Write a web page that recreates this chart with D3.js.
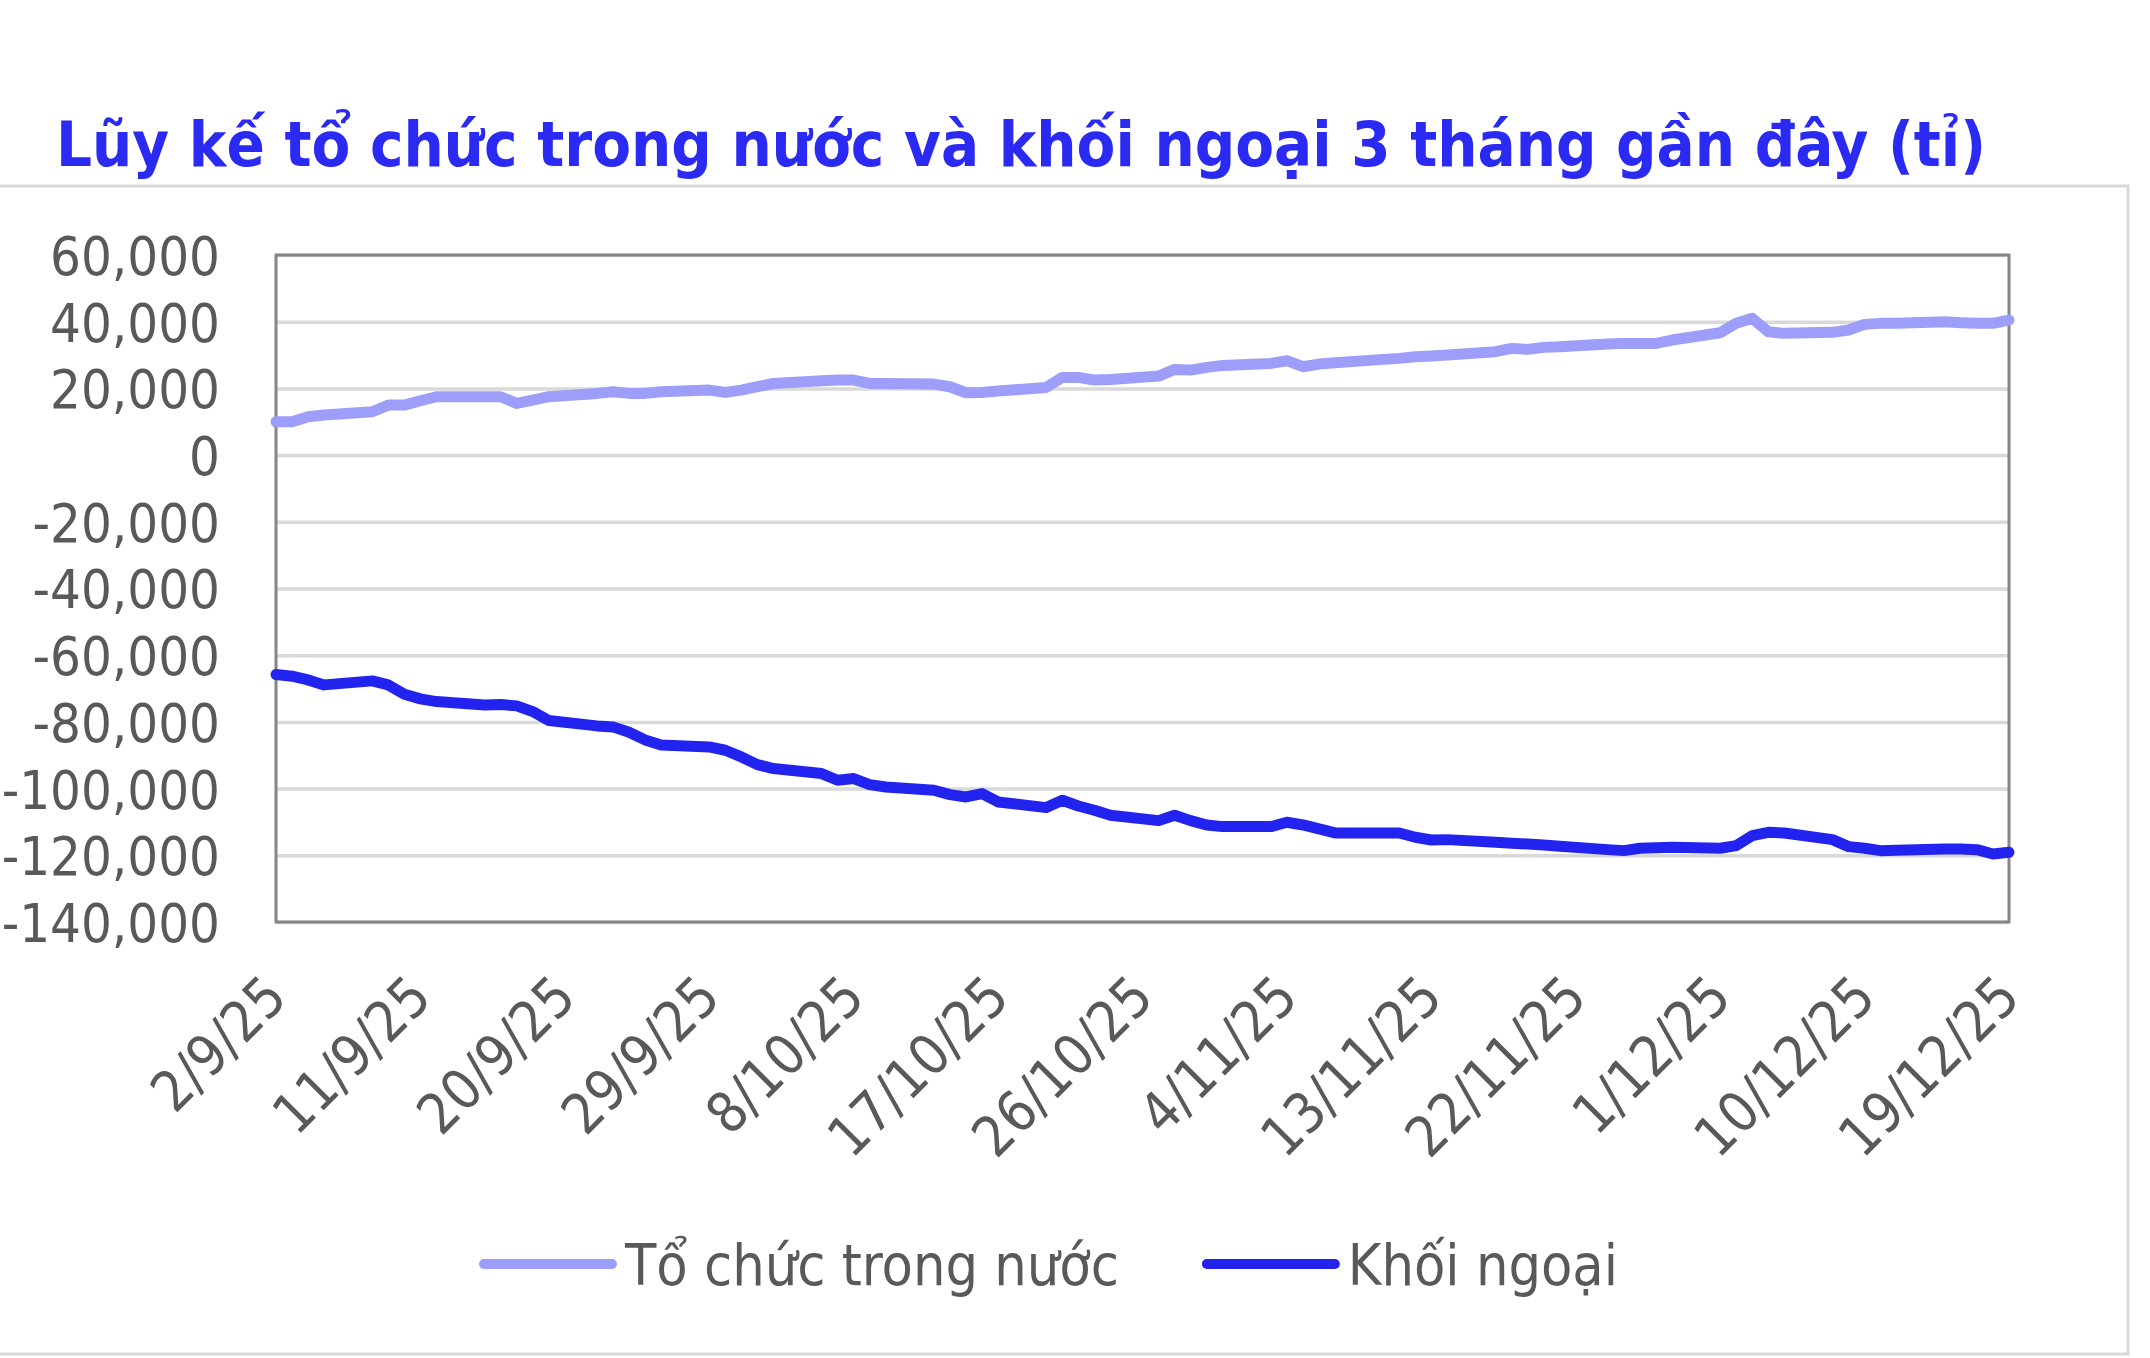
<!DOCTYPE html>
<html>
<head>
<meta charset="utf-8">
<script src="https://cdn.jsdelivr.net/npm/d3@7"></script>
<style>
  body { margin: 0; background: #fff; }
  svg { display: block; }
</style>
</head>
<body>
<div id="chart"></div>
<script>
////////////////////////////////////////////////////////////////////////
// Data (values in tỉ đồng)

let chartTitle = "Lũy kế tổ chức trong nước và khối ngoại 3 tháng gần đây (tỉ)";
let seriesNames = ["Tổ chức trong nước", "Khối ngoại"];

// trading days, d/m/yy
let dates = [
  "2/9/25","3/9/25","4/9/25","5/9/25","8/9/25","9/9/25","10/9/25","11/9/25","12/9/25",
  "15/9/25","16/9/25","17/9/25","18/9/25","19/9/25","22/9/25","23/9/25","24/9/25","25/9/25","26/9/25",
  "29/9/25","30/9/25","1/10/25","2/10/25","3/10/25","6/10/25","7/10/25","8/10/25","9/10/25","10/10/25",
  "13/10/25","14/10/25","15/10/25","16/10/25","17/10/25","20/10/25","21/10/25","22/10/25","23/10/25","24/10/25",
  "27/10/25","28/10/25","29/10/25","30/10/25","31/10/25","3/11/25","4/11/25","5/11/25","6/11/25","7/11/25",
  "10/11/25","11/11/25","12/11/25","13/11/25","14/11/25","17/11/25","18/11/25","19/11/25","20/11/25","21/11/25",
  "24/11/25","25/11/25","26/11/25","27/11/25","28/11/25","1/12/25","2/12/25","3/12/25","4/12/25","5/12/25",
  "8/12/25","9/12/25","10/12/25","11/12/25","12/12/25","15/12/25","16/12/25","17/12/25","18/12/25","19/12/25"
];

let domestic = [
  10000, 10000, 11500, 12000, 13000, 15000, 15000, 16300, 17500,
  17500, 17500, 15500, 16500, 17500, 18500, 19000, 18500, 18500, 19000,
  19500, 18800, 19500, 20500, 21500, 22300, 22500, 22500, 21500, 21500,
  21300, 20500, 18700, 18800, 19200, 20300, 23300, 23300, 22500, 22700,
  23700, 25700, 25500, 26300, 26900, 27500, 28300, 26500, 27300, 27700,
  28700, 29000, 29500, 29700, 30000, 31000, 32000, 31700, 32300, 32500,
  33300, 33500, 33500, 33500, 34500, 36700, 39500, 41000, 37000, 36500,
  36800, 37500, 39200, 39500, 39500, 40000, 39700, 39500, 39500, 40500
];

let foreign = [
  -65800, -66300, -67400, -68900, -67700, -68900, -71700, -73100, -73900,
  -74900, -74800, -75200, -76900, -79600, -81200, -81500, -83100, -85400, -86900,
  -87500, -88500, -90500, -92800, -94000, -95500, -97500, -97000, -98800, -99500,
  -100500, -101800, -102500, -101500, -104000, -105700, -103500, -105200, -106500, -108000,
  -109600, -108000, -109600, -110900, -111400, -111400, -110100, -110900, -112100, -113300,
  -113300, -113300, -114600, -115400, -115300, -116100, -116400, -116600, -116900, -117300,
  -118300, -118600, -117900, -117700, -117600, -117900, -117100, -114100, -113100, -113300,
  -115300, -117400, -117900, -118600, -118500, -118100, -118100, -118300, -119600, -119100
];

let xTickLabels = ["2/9/25","11/9/25","20/9/25","29/9/25","8/10/25","17/10/25","26/10/25",
  "4/11/25","13/11/25","22/11/25","1/12/25","10/12/25","19/12/25"];
let yTicks = [60000, 40000, 20000, 0, -20000, -40000, -60000, -80000, -100000, -120000, -140000];

////////////////////////////////////////////////////////////////////////
// Layout

let W = 2150, H = 1358;
let plotLeft = 276, plotRight = 2009, plotTop = 255, plotBottom = 922;
let font = "'DejaVu Sans Condensed', 'Liberation Sans', sans-serif";
let textGray = "#595959";
let colors = ["#9d9dfa", "#2323f0"];

let parseDate = d3.utcParse("%d/%m/%y");
let fmt = d3.formatLocale({decimal: ".", thousands: ",", grouping: [3], currency: ["", ""], minus: "-"}).format(",");

let svg = d3.select("#chart").append("svg")
  .attr("width", W)
  .attr("height", H)
  .style("font-family", font);

// outer chart frame
svg.append("rect")
  .attr("x", -5).attr("y", 186)
  .attr("width", 2133).attr("height", 1168)
  .attr("fill", "none")
  .attr("stroke", "#d9d9d9")
  .attr("stroke-width", 3);

// title
svg.append("text")
  .attr("x", 56).attr("y", 166)
  .attr("textLength", 1930)
  .attr("lengthAdjust", "spacingAndGlyphs")
  .style("font-size", "63px")
  .style("font-weight", "bold")
  .style("fill", "#2a2af2")
  .text(chartTitle);

let xScale = d3.scaleUtc()
  .domain([parseDate(xTickLabels[0]), parseDate(xTickLabels[xTickLabels.length - 1])])
  .range([plotLeft, plotRight]);
let yScale = d3.scaleLinear().domain([-140000, 60000]).range([plotBottom, plotTop]);

// gridlines
svg.append("g")
  .attr("class", "grid")
  .attr("transform", "translate(" + plotLeft + ",0)")
  .call(d3.axisLeft(yScale).tickValues(yTicks).tickSize(-(plotRight - plotLeft)).tickFormat(""))
  .call(g => g.select(".domain").remove())
  .call(g => g.selectAll("line").attr("stroke", "#d9d9d9").attr("stroke-width", 3.5));

// plot border
svg.append("rect")
  .attr("x", plotLeft).attr("y", plotTop)
  .attr("width", plotRight - plotLeft).attr("height", plotBottom - plotTop)
  .attr("fill", "none")
  .attr("stroke", "#858585")
  .attr("stroke-width", 3);

// y axis labels
svg.append("g")
  .attr("class", "yaxis")
  .attr("transform", "translate(" + plotLeft + ",0)")
  .call(d3.axisLeft(yScale).tickValues(yTicks).tickSize(0).tickPadding(56).tickFormat(fmt))
  .call(g => g.select(".domain").remove())
  .call(g => g.selectAll("text")
    .attr("dy", "0.36em")
    .style("font-family", font)
    .style("font-size", "54px")
    .style("fill", textGray));

// x axis labels, rotated
svg.append("g")
  .attr("class", "xaxis")
  .attr("transform", "translate(0," + plotBottom + ")")
  .call(d3.axisBottom(xScale).tickValues(xTickLabels.map(parseDate)).tickSize(0)
    .tickFormat((d, i) => xTickLabels[i]))
  .call(g => g.select(".domain").remove())
  .call(g => g.selectAll("text")
    .attr("x", 0).attr("y", 0).attr("dy", 0)
    .attr("transform", "translate(13,78) rotate(-45)")
    .style("text-anchor", "end")
    .style("font-family", font)
    .style("font-size", "56px")
    .style("fill", textGray));

// lines
let line = d3.line()
  .x((d, i) => xScale(parseDate(dates[i])))
  .y(d => yScale(d));

[domestic, foreign].forEach(function(series, k) {
  svg.append("path")
    .datum(series)
    .attr("fill", "none")
    .attr("stroke", colors[k])
    .attr("stroke-width", 11)
    .attr("stroke-linejoin", "round")
    .attr("stroke-linecap", "round")
    .attr("d", line);
});

// legend, centred under the plot
let legend = svg.append("g").attr("class", "legend");
let lx = 0;
seriesNames.forEach(function(name, k) {
  let item = legend.append("g").attr("transform", "translate(" + lx + ",0)");
  item.append("line")
    .attr("x1", 0).attr("x2", 128)
    .attr("y1", 0).attr("y2", 0)
    .attr("stroke", colors[k])
    .attr("stroke-width", 10)
    .attr("stroke-linecap", "round");
  let t = item.append("text")
    .attr("x", 141).attr("y", 21)
    .style("font-size", "57px")
    .style("fill", textGray)
    .text(name);
  lx += 141 + t.node().getComputedTextLength() + 88;
});
let legendWidth = lx - 88;
legend.attr("transform", "translate(" + (1051 - legendWidth / 2) + ",1264)");
</script>
</body>
</html>
